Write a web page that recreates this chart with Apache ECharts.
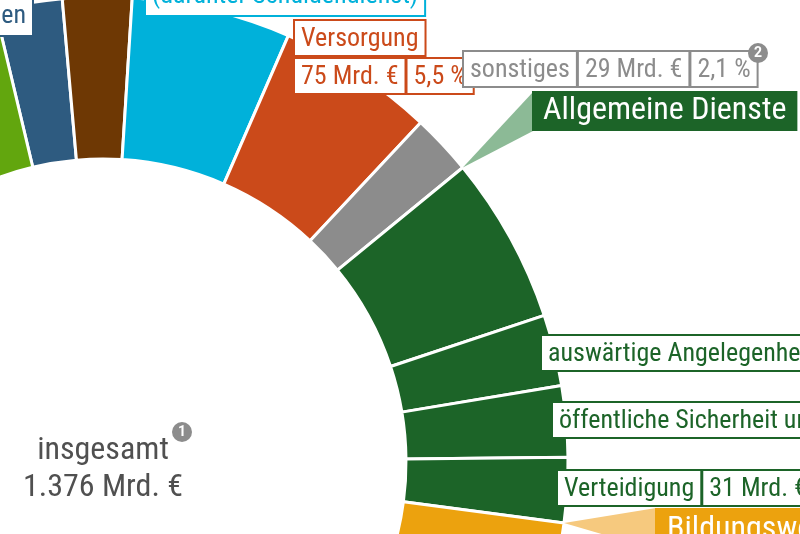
<!DOCTYPE html>
<html>
<head>
<meta charset="utf-8">
<title>Ausgaben insgesamt nach Aufgabenbereichen</title>
<script src="https://cdn.jsdelivr.net/npm/echarts@6.0.0/dist/echarts.min.js"></script>
<style>
  html, body { margin: 0; padding: 0; background: #ffffff; }
  #main { width: 800px; height: 534px; }
</style>
</head>
<body>
<div id="main"></div>
<script>
// Aufgabenbereiche im Uhrzeigersinn, beginnend am linken Bildrand
const categories = [
  'Verkehrs- und Nachrichtenwesen',
  'Wirtschaftsunternehmen',
  'Finanzwirtschaft\n(darunter Schuldendienst)',
  'Versorgung',
  'sonstiges',
  'politische Führung und zentrale Verwaltung',
  'auswärtige Angelegenheiten',
  'öffentliche Sicherheit und Ordnung',
  'Verteidigung',
  'Bildungswesen',
  'Soziale Sicherung',
  'Gesundheit und Sport',
  'Wohnungswesen und Städtebau'
];
const values = [32, 33, 76, 75, 29, 80, 34, 34, 31, 200, 600, 80, 72]; // Mrd. €
const total = 1376;
const groupNames = ['Allgemeine Dienste', 'Bildungswesen'];

const sliceColors = ['#2e5b80', '#6e3804', '#00b1da', '#cb4a1a', '#8c8c8c',
  '#1c6428', '#1c6428', '#1c6428', '#1c6428', '#eca20e', '#c0392b', '#7a4f9a', '#62a60e'];

const FONT = "'Roboto Condensed', 'Liberation Sans Narrow', 'DejaVu Sans Condensed', Roboto, sans-serif";
const CX = 103, CY = 462, R0 = 303, R1 = 465, START = 103.4;

function fmtAmount(v) { return v + ' Mrd. €'; }
function fmtPct(v) { return (v / total * 100).toFixed(1).replace('.', ',') + ' %'; }

// wo die Beschriftung sitzt
const labelPlace = {
  0: { x: 32, y: 35, align: 'right', va: 'bottom', kind: 'box' },
  2: { x: 146, y: 15, align: 'left', va: 'bottom', kind: 'box' },
  3: { x: 295, y: 21, kind: 'stack' },
  4: { x: 464, y: 52, kind: 'row' },
  6: { x: 542, y: 336, kind: 'row' },
  7: { x: 553, y: 403, kind: 'row' },
  8: { x: 558, y: 471, kind: 'row' }
};

function boxStyle(c) {
  return {
    fontFamily: FONT, fontSize: 26, color: c,
    backgroundColor: '#fff', borderColor: c, borderWidth: 2,
    padding: [5, 6, 3, 6]
  };
}

function makeLabel(i) {
  const p = labelPlace[i];
  if (!p) return { show: false };
  const c = sliceColors[i];
  if (p.kind === 'box') {
    return Object.assign({ show: true, position: 'inside', formatter: '{b}', lineHeight: 31 }, boxStyle(c));
  }
  const rich = {
    n: boxStyle(c), v: boxStyle(c), p: boxStyle(c),
    s: { width: 3, fontSize: 10 },
    h: { height: 4, lineHeight: 4, fontSize: 4 }
  };
  const row = '{v|' + fmtAmount(values[i]) + '}{s| }{p|' + fmtPct(values[i]) + '}';
  return {
    show: true, position: 'inside', rich: rich,
    formatter: p.kind === 'stack' ? '{n|{b}}\n{h| }\n' + row : '{n|{b}}{s| }' + row
  };
}

const pieData = categories.map((name, i) => ({
  name: name,
  value: values[i],
  itemStyle: { color: sliceColors[i] },
  label: makeLabel(i)
}));

// Punkt am Außenrand, an dem ein Bereich beginnt
function edgePoint(idx) {
  let cum = 0;
  for (let k = 0; k < idx; k++) cum += values[k];
  const a = (START - cum / total * 360) * Math.PI / 180;
  return [CX + R1 * Math.cos(a), CY - R1 * Math.sin(a)];
}

const chart = echarts.init(document.getElementById('main'));
chart.setOption({
  backgroundColor: '#ffffff',
  animation: false,
  series: [{
    type: 'pie',
    silent: true,
    center: [CX, CY],
    radius: [R0, R1],
    startAngle: START,
    clockwise: true,
    avoidLabelOverlap: false,
    itemStyle: { borderColor: '#ffffff', borderWidth: 3 },
    labelLine: { show: false },
    labelLayout: function (params) {
      const p = labelPlace[params.dataIndex];
      if (!p) return {};
      return { x: p.x, y: p.y, align: p.align || 'left', verticalAlign: p.va || 'top' };
    },
    data: pieData
  }],
  graphic: {
    elements: [
      {
        type: 'polygon', z: 100,
        shape: { points: [edgePoint(5), [533, 92], [533, 131]] },
        style: { fill: '#8cba96' }
      },
      {
        type: 'text', z: 101, x: 532, y: 91,
        style: {
          text: groupNames[0], fontFamily: FONT, fontSize: 32, fill: '#ffffff',
          backgroundColor: '#1c6428', padding: [4, 11, 4, 11]
        }
      },
      {
        type: 'polygon', z: 100,
        shape: { points: [edgePoint(9), [656, 508], [656, 550]] },
        style: { fill: '#f6c97e' }
      },
      {
        type: 'text', z: 101, x: 655, y: 508,
        style: {
          text: groupNames[1], fontFamily: FONT, fontSize: 32, fill: '#ffffff',
          backgroundColor: '#eca20e', padding: [6, 12, 4, 12]
        }
      },
      {
        type: 'text', z: 101, x: CX, y: 469,
        style: {
          text: 'insgesamt\n' + total.toLocaleString('de-DE') + ' Mrd. €',
          fontFamily: FONT, fontSize: 32, lineHeight: 37, fill: '#505050',
          align: 'center', verticalAlign: 'middle', textAlign: 'center', textVerticalAlign: 'middle'
        }
      },
      { type: 'circle', z: 102, shape: { cx: 182, cy: 432, r: 10 }, style: { fill: '#8c8c8c' } },
      {
        type: 'text', z: 103, x: 182, y: 432,
        style: { text: '1', fontFamily: 'Roboto', fontWeight: 'bold', fontSize: 14, fill: '#fff',
          align: 'center', verticalAlign: 'middle', textAlign: 'center', textVerticalAlign: 'middle' }
      },
      { type: 'circle', z: 102, shape: { cx: 758, cy: 53, r: 10 }, style: { fill: '#8c8c8c' } },
      {
        type: 'text', z: 103, x: 758, y: 53,
        style: { text: '2', fontFamily: 'Roboto', fontWeight: 'bold', fontSize: 14, fill: '#fff',
          align: 'center', verticalAlign: 'middle', textAlign: 'center', textVerticalAlign: 'middle' }
      }
    ]
  }
});
</script>
</body>
</html>
